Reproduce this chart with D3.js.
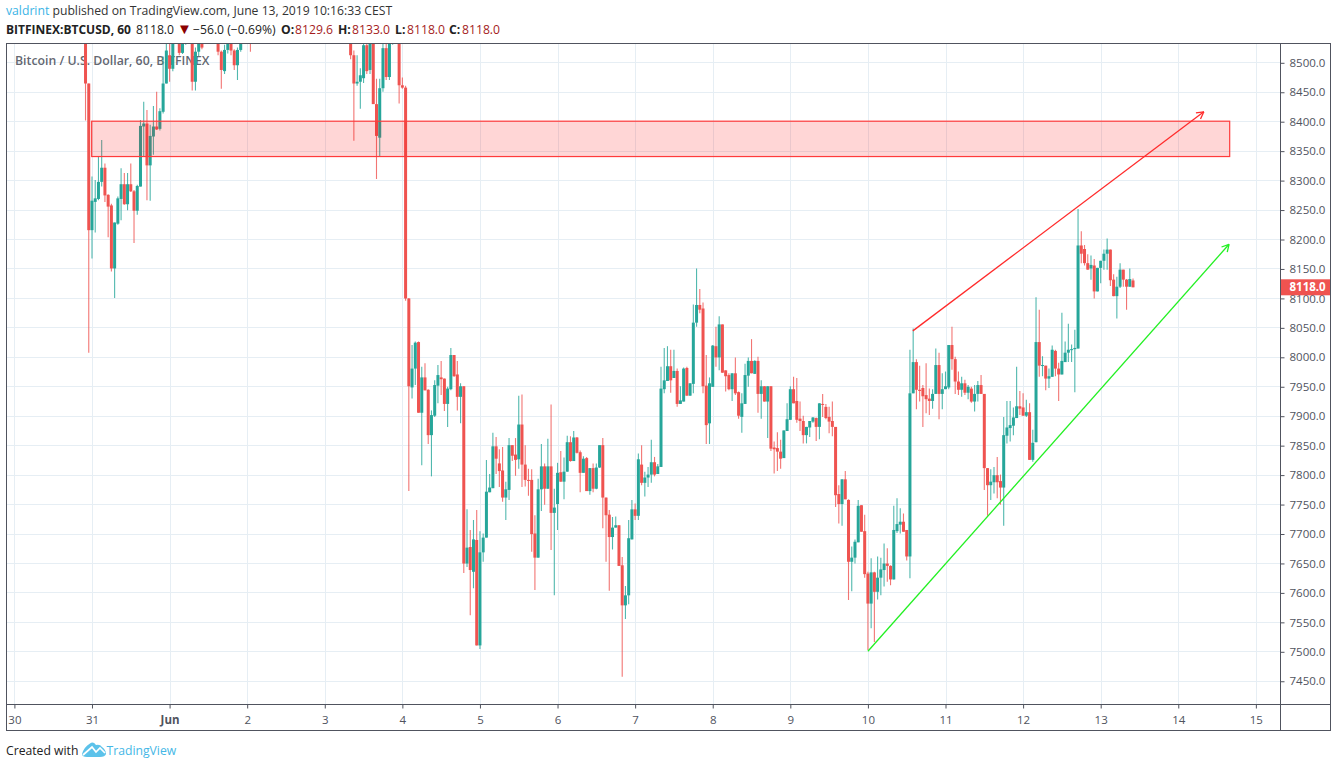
<!DOCTYPE html>
<html>
<head>
<meta charset="utf-8">
<script src="https://cdn.jsdelivr.net/npm/d3@7"></script>
<style>
  html, body { margin: 0; padding: 0; background: #fff; }
  svg { display: block; }
  text { font-family: "Open Sans", sans-serif; }
</style>
</head>
<body>
<svg id="chart" width="1337" height="768"></svg>
<script>
// hour of the first candle, counted from May 30 00:00
const firstHour = 22;

// one row = 10 hourly candles
const opens = [
  8600,8464,8215,8263,8268,8297,8321,8275,8257,8150,
  8226,8268,8293,8259,8293,8281,8248,8289,8391,8396,
  8325,8374,8391,8387,8416,8464,8512,8489,8545,8560,
  8516,8545,8560,8570,8467,8518,8545,8535,8570,8600,
  8590,8560,8518,8485,8521,8532,8520,8495,8521,8540,
  8550,8560,8545,8580,8610,8640,8625,8655,8690,8670,
  8700,8730,8710,8680,8695,8720,8700,8665,8640,8660,
  8690,8670,8650,8680,8660,8630,8610,8640,8620,8590,
  8600,8575,8545,8512,8464,8467,8473,8529,8487,8535,
  8429,8372,8456,8524,8475,8538,8550,8560,8461,8457,
  8099,7948,7980,8025,7905,7965,7944,7867,7900,7951,
  7965,7963,7920,7945,8003,7970,7932,7950,7649,7677,
  7635,7689,7510,7668,7693,7770,7777,7848,7819,7807,
  7761,7774,7850,7834,7826,7885,7817,7791,7791,7700,
  7659,7775,7814,7776,7814,7735,7750,7804,7788,7805,
  7855,7823,7863,7838,7803,7828,7772,7811,7776,7812,
  7850,7761,7732,7694,7710,7714,7646,7578,7595,7690,
  7741,7730,7817,7786,7795,7800,7821,7801,7813,7945,
  7959,7984,7964,7976,7920,7924,7981,7934,7954,8058,
  8088,8082,7951,7887,7949,8018,7999,8055,7977,7969,
  7945,7972,7940,7898,7920,7968,7993,7971,7993,7937,
  7950,7924,7950,7846,7845,7839,7828,7874,7893,7945,
  7925,7895,7891,7867,7880,7890,7896,7881,7920,7915,
  7898,7891,7881,7767,7750,7792,7757,7652,7659,7685,
  7748,7704,7632,7581,7634,7601,7625,7638,7649,7645,
  7622,7704,7715,7720,7706,7661,7938,7991,7944,7947,
  7935,7929,7925,7937,7986,7937,7945,7948,8020,7996,
  7958,7944,7955,7939,7946,7924,7937,7952,7937,7811,
  7782,7787,7799,7789,7778,7866,7879,7883,7896,7916,
  7914,7900,7906,7825,7855,8025,7985,7985,7963,7966,
  8010,7980,7970,7991,8007,8012,8013,8014,8189,8183,
  8159,8150,8155,8111,8151,8163,8175,8182,8131,8103,
  8119,8148,8131,8119,8129.6
];
const highs = [
  8620,8464,8306,8300,8340,8368,8328,8276,8260,8228,
  8272,8320,8312,8312,8328,8283,8292,8402,8433,8419,
  8394,8426,8450,8422,8510,8600,8535,8560,8580,8565,
  8550,8565,8575,8580,8525,8560,8550,8590,8610,8615,
  8600,8565,8520,8530,8550,8545,8522,8525,8555,8570,
  8580,8565,8595,8625,8650,8660,8670,8700,8710,8720,
  8745,8750,8725,8715,8735,8740,8715,8680,8675,8705,
  8700,8685,8690,8695,8670,8645,8650,8655,8630,8615,
  8610,8580,8550,8520,8512,8490,8540,8540,8550,8550,
  8472,8472,8535,8535,8550,8560,8570,8570,8474,8460,
  8100,8020,8026,8026,7983,7989,7945,7909,7960,7986,
  7993,7963,7949,8015,8003,7993,7955,7950,7741,7706,
  7723,7740,7704,7700,7825,7801,7871,7864,7843,7847,
  7788,7862,7850,7862,7934,7936,7850,7810,7809,7731,
  7793,7852,7819,7861,7919,7776,7820,7840,7829,7866,
  7865,7874,7864,7841,7831,7830,7811,7819,7819,7850,
  7862,7761,7740,7728,7729,7714,7660,7611,7723,7757,
  7751,7836,7850,7805,7813,7859,7830,7818,7983,8015,
  8018,8012,8012,7980,7950,7982,7983,7955,8089,8150,
  8115,8092,8003,7965,8020,8051,8069,8055,7977,7972,
  7972,7999,7941,7938,7988,7999,8030,7994,8000,7960,
  7950,7950,7950,7856,7872,7859,7875,7921,7950,7966,
  7964,7924,7900,7881,7891,7898,7897,7921,7937,7920,
  7915,7924,7881,7782,7792,7806,7758,7678,7690,7757,
  7748,7732,7635,7658,7635,7661,7659,7683,7675,7646,
  7747,7760,7743,7734,7706,8012,8048,7996,7985,7952,
  7989,7946,7945,8014,8007,7972,7975,8020,8051,8000,
  7975,7966,7961,7952,7949,7952,7959,7969,7937,7811,
  7809,7813,7830,7800,7898,7925,7925,7914,7983,7942,
  7938,7927,7921,7876,8101,8080,8001,7985,7980,8019,
  8012,7990,8075,8026,8056,8021,8046,8251,8213,8190,
  8174,8172,8166,8151,8163,8182,8201,8182,8140,8136,
  8159,8148,8132,8150,8133
];
const lows = [
  8401,8007,8167,8211,8266,8289,8263,8203,8145,8100,
  8224,8232,8258,8249,8280,8193,8241,8289,8340,8266,
  8265,8343,8385,8384,8413,8464,8467,8485,8535,8512,
  8514,8530,8540,8452,8452,8510,8522,8533,8560,8575,
  8545,8512,8455,8480,8515,8512,8487,8470,8518,8535,
  8545,8518,8540,8570,8600,8610,8615,8645,8660,8655,
  8690,8695,8665,8670,8680,8685,8650,8625,8630,8645,
  8655,8635,8640,8650,8615,8600,8595,8605,8575,8570,
  8560,8540,8505,8367,8460,8421,8465,8480,8480,8429,
  8302,8340,8450,8470,8470,8530,8545,8430,8455,8095,
  7772,7929,7952,7905,7816,7943,7852,7797,7898,7921,
  7935,7908,7881,7943,7966,7909,7887,7633,7643,7561,
  7607,7510,7504,7652,7693,7770,7777,7801,7779,7754,
  7723,7757,7823,7798,7810,7779,7780,7764,7669,7604,
  7659,7738,7749,7776,7672,7595,7706,7788,7758,7805,
  7822,7823,7836,7770,7803,7772,7766,7770,7775,7811,
  7709,7652,7603,7673,7710,7645,7457,7555,7580,7690,
  7723,7723,7782,7763,7779,7786,7797,7801,7813,7938,
  7959,7939,7964,7915,7920,7924,7934,7934,7938,8051,
  8074,7938,7852,7852,7949,7983,7977,7973,7941,7943,
  7925,7935,7895,7871,7920,7949,7972,7971,7905,7895,
  7924,7862,7840,7802,7806,7810,7828,7874,7893,7921,
  7888,7874,7853,7853,7864,7888,7857,7860,7898,7894,
  7870,7865,7745,7717,7713,7758,7587,7602,7649,7685,
  7703,7625,7502,7539,7516,7588,7595,7610,7618,7612,
  7622,7701,7700,7703,7654,7624,7938,7911,7924,7881,
  7904,7901,7912,7937,7894,7911,7945,7945,7978,7937,
  7935,7932,7935,7928,7922,7907,7924,7937,7774,7730,
  7757,7768,7760,7749,7713,7853,7856,7867,7896,7901,
  7900,7898,7825,7822,7855,7966,7967,7943,7947,7966,
  7967,7925,7970,7991,7991,7991,7940,8014,8159,8155,
  8148,8131,8099,8111,8125,8148,8148,8120,8103,8065,
  8117,8119,8080,8119,8118
];
const closes = [
  8464,8215,8265,8269,8297,8321,8274,8255,8150,8228,
  8269,8293,8259,8293,8281,8248,8290,8392,8396,8325,
  8375,8391,8386,8417,8464,8520,8489,8545,8560,8516,
  8545,8560,8570,8467,8518,8545,8525,8570,8600,8590,
  8560,8518,8487,8521,8532,8520,8495,8521,8540,8550,
  8560,8545,8580,8610,8640,8625,8655,8690,8670,8700,
  8730,8710,8680,8695,8720,8700,8665,8640,8660,8690,
  8670,8650,8680,8660,8630,8610,8640,8620,8590,8600,
  8575,8545,8512,8464,8467,8478,8529,8485,8535,8429,
  8375,8456,8524,8475,8538,8550,8560,8461,8457,8099,
  7950,7980,8024,7905,7965,7943,7867,7901,7952,7969,
  7962,7920,7946,8003,7967,7932,7950,7649,7676,7638,
  7690,7510,7668,7693,7771,7778,7848,7827,7806,7761,
  7775,7850,7832,7825,7885,7817,7791,7790,7699,7659,
  7775,7814,7776,7814,7735,7744,7803,7788,7805,7855,
  7823,7863,7837,7803,7827,7772,7811,7776,7812,7850,
  7761,7731,7694,7710,7714,7645,7578,7595,7692,7741,
  7730,7826,7786,7795,7800,7821,7800,7814,7946,7960,
  7984,7960,7976,7920,7926,7980,7934,7955,8058,8088,
  8080,7950,7884,7955,8019,7999,8055,7973,7967,7945,
  7972,7938,7900,7921,7969,7993,7972,7993,7937,7950,
  7924,7950,7844,7843,7839,7827,7875,7894,7945,7921,
  7893,7891,7867,7881,7891,7897,7881,7921,7919,7896,
  7890,7881,7765,7750,7792,7758,7652,7659,7686,7747,
  7703,7631,7581,7634,7601,7625,7639,7649,7645,7622,
  7706,7716,7720,7703,7661,7938,7991,7944,7942,7933,
  7928,7925,7937,7986,7937,7945,7950,8020,7996,7958,
  7944,7955,7939,7949,7924,7937,7952,7937,7811,7782,
  7788,7799,7787,7778,7867,7880,7884,7897,7916,7912,
  7900,7906,7825,7854,8025,7985,7986,7963,7967,8012,
  7980,7970,7993,8007,8012,8013,8015,8189,8175,8159,
  8148,8156,8111,8151,8163,8175,8182,8130,8103,8119,
  8148,8131,8119,8132,8118
];

const priceTicks = d3.range(7450, 8501, 50);
const dayHours = [0,24,48,72,96,120,144,168,192,216,240,264,288,312,336,360,384];
const dayLabels = ['30','31','Jun','2','3','4','5','6','7','8','9','10','11','12','13','14','15'];

// zone and the two trend lines, in hours and prices
const zoneHours = [23.9, 375.9];
const zonePrices = [8400, 8340];
const redLineHours = [277.9, 367.9];
const redLinePrices = [8044, 8416];
const greenLineHours = [264, 375.7];
const greenLinePrices = [7500, 8191];

const lastPrice = 8118;

const upColor = '#26a69a', downColor = '#ef5350';
const gridColor = '#e6eef4', frameColor = '#50535e', textColor = '#50535e';

const frame = {left: 6.5, top: 43.5, right: 1330.5, bottom: 730.5, axisX: 1280.5, axisY: 704.5};

const x = d3.scaleLinear().domain([0, 360]).range([14.4, 14.4 + 3.233 * 360]);
const y = d3.scaleLinear().domain([8500, 7500]).range([62.3, 651.3]);

const svg = d3.select('#chart');

svg.append('defs').append('clipPath').attr('id', 'plot')
  .append('rect')
  .attr('x', frame.left).attr('y', frame.top)
  .attr('width', frame.axisX - frame.left).attr('height', frame.axisY - frame.top);

// header lines
const head1 = svg.append('text').attr('x', 6).attr('y', 15).style('font-size', '12.2px');
head1.append('tspan').attr('fill', '#3bb4e6').text('valdrint');
head1.append('tspan').attr('fill', '#333').text(' published on TradingView.com, June 13, 2019 10:16:33 CEST');

const head2 = svg.append('text').attr('y', 34).style('font-size', '12.2px').attr('fill', '#222');
head2.append('tspan').attr('x', 6).attr('font-weight', 700).style('font-size', '12px').text('BITFINEX:BTCUSD, 60');
head2.append('tspan').attr('x', 136).text('8118.0');
head2.append('tspan').attr('x', 177).attr('fill', '#8b0000').style('font-size', '15px').text('▼');
head2.append('tspan').attr('x', 193).text('−56.0 (−0.69%)');
[['O:', 281, 295, '8129.6'], ['H:', 338, 352, '8133.0'], ['L:', 395, 407, '8118.0'], ['C:', 449, 462, '8118.0']].forEach(function (p) {
  head2.append('tspan').attr('x', p[1]).attr('font-weight', 700).text(p[0]);
  head2.append('tspan').attr('x', p[2]).attr('fill', '#a51c1c').text(p[3]);
});

// grid
const grid = svg.append('g').attr('clip-path', 'url(#plot)');
grid.selectAll('.hgrid').data(priceTicks).enter().append('line')
  .attr('x1', frame.left).attr('x2', frame.axisX)
  .attr('y1', function (d) { return Math.round(y(d)) + 0.5; })
  .attr('y2', function (d) { return Math.round(y(d)) + 0.5; })
  .attr('stroke', gridColor);
grid.selectAll('.vgrid').data(dayHours).enter().append('line')
  .attr('y1', frame.top).attr('y2', frame.axisY)
  .attr('x1', function (d) { return Math.round(x(d)) + 0.5; })
  .attr('x2', function (d) { return Math.round(x(d)) + 0.5; })
  .attr('stroke', gridColor);

svg.append('text').attr('x', 15).attr('y', 65)
  .attr('fill', '#50535e').attr('fill-opacity', 0.9)
  .style('font-size', '12.3px').style('font-weight', 600)
  .text('Bitcoin / U.S. Dollar, 60, BITFINEX');

// candles
const candles = svg.append('g').attr('clip-path', 'url(#plot)');
opens.forEach(function (o, i) {
  const h = firstHour + i, c = closes[i];
  const col = c >= o ? upColor : downColor;
  const cx = x(h);
  candles.append('line')
    .attr('x1', cx).attr('x2', cx)
    .attr('y1', y(highs[i])).attr('y2', y(lows[i]))
    .attr('stroke', col).attr('stroke-width', 1.1).attr('stroke-opacity', 0.8);
  candles.append('rect')
    .attr('x', cx - 1.5).attr('width', 3)
    .attr('y', y(Math.max(o, c)))
    .attr('height', Math.max(1, Math.abs(y(o) - y(c))))
    .attr('fill', col);
});

// drawings
const shapes = svg.append('g').attr('clip-path', 'url(#plot)');
shapes.append('rect')
  .attr('x', x(zoneHours[0])).attr('width', x(zoneHours[1]) - x(zoneHours[0]))
  .attr('y', y(zonePrices[0])).attr('height', y(zonePrices[1]) - y(zonePrices[0]))
  .attr('fill', '#ff0000').attr('fill-opacity', 0.16)
  .attr('stroke', '#ff3b3b').attr('stroke-width', 1.2);

function arrowLine(hours, prices, color) {
  const x0 = x(hours[0]), y0 = y(prices[0]), x1 = x(hours[1]), y1 = y(prices[1]);
  const ang = Math.atan2(y1 - y0, x1 - x0), len = 8;
  shapes.append('line').attr('x1', x0).attr('y1', y0).attr('x2', x1).attr('y2', y1)
    .attr('stroke', color).attr('stroke-width', 1.3);
  [-0.5, 0.5].forEach(function (da) {
    shapes.append('line').attr('x1', x1).attr('y1', y1)
      .attr('x2', x1 - len * Math.cos(ang + da))
      .attr('y2', y1 - len * Math.sin(ang + da))
      .attr('stroke', color).attr('stroke-width', 1.3);
  });
}
arrowLine(redLineHours, redLinePrices, '#ff2a2a');
arrowLine(greenLineHours, greenLinePrices, '#22f022');

// axes
const priceAxis = d3.axisRight(y).tickValues(priceTicks)
  .tickFormat(d3.format('.1f')).tickSize(4).tickPadding(5);
const pg = svg.append('g').attr('transform', 'translate(' + frame.axisX + ',0.5)').call(priceAxis);
pg.select('.domain').remove();
pg.selectAll('line').attr('stroke', frameColor);
pg.selectAll('text').attr('fill', textColor).style('font-size', '11.5px').style('font-family', '"Open Sans", sans-serif');

const timeAxis = d3.axisBottom(x).tickValues(dayHours)
  .tickFormat(function (d, i) { return dayLabels[i]; }).tickSize(4).tickPadding(7);
const tg = svg.append('g').attr('transform', 'translate(0,' + frame.axisY + ')').call(timeAxis);
tg.select('.domain').remove();
tg.selectAll('line').attr('stroke', frameColor);
tg.selectAll('text').attr('fill', textColor).style('font-size', '11.5px').style('font-family', '"Open Sans", sans-serif')
  .style('font-weight', function (d, i) { return dayLabels[i] === 'Jun' ? 700 : 400; });

// last price tag
svg.append('rect').attr('x', frame.axisX).attr('width', frame.right - frame.axisX)
  .attr('y', y(lastPrice) - 8).attr('height', 16).attr('fill', downColor);
svg.append('text').attr('x', frame.axisX + 9).attr('y', y(lastPrice) + 4.2)
  .attr('fill', '#fff').style('font-size', '11.5px').style('font-weight', 700).text(d3.format('.1f')(lastPrice));

// frame
svg.append('rect').attr('x', frame.left).attr('y', frame.top)
  .attr('width', frame.right - frame.left).attr('height', frame.bottom - frame.top)
  .attr('fill', 'none').attr('stroke', frameColor);
svg.append('line').attr('x1', frame.axisX).attr('x2', frame.axisX)
  .attr('y1', frame.top).attr('y2', frame.bottom).attr('stroke', frameColor);
svg.append('line').attr('x1', frame.left).attr('x2', frame.right)
  .attr('y1', frame.axisY).attr('y2', frame.axisY).attr('stroke', frameColor);

// footer
svg.append('text').attr('x', 6).attr('y', 755).attr('fill', '#222').style('font-size', '12.2px').text('Created with');
svg.append('path')
  .attr('d', 'M82,754 Q84,747 90,743.5 Q93,741 96,745 Q100,744 102,747 Q106,750 106,754 Q105,757 100,757 L87,757 Q82,757 82,754 Z')
  .attr('fill', '#5cc2ea');
svg.append('polyline')
  .attr('points', '83,755 92,747 96,752 100,748 105,753')
  .attr('fill', 'none').attr('stroke', '#fff').attr('stroke-width', 1.7);
svg.append('text').attr('x', 106.5).attr('y', 755).attr('fill', '#45b7e6').style('font-size', '12.2px').text('TradingView');
</script>
</body>
</html>
